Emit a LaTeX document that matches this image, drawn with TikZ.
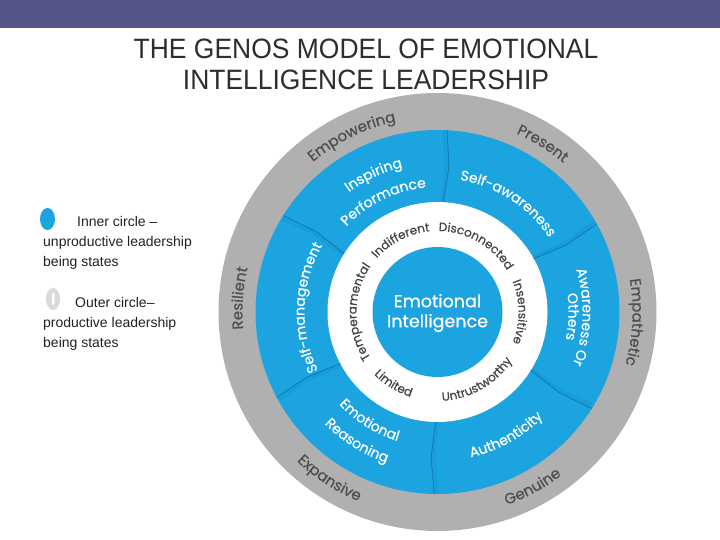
\documentclass[tikz,border=0pt]{standalone}
\usepackage{fontspec}
\setmainfont{Liberation Sans}
\newfontfamily\geo[FakeBold=0.45]{Poppins}
\newfontfamily\titlefont[FakeStretch=0.945]{Liberation Sans}
\usetikzlibrary{decorations.text}
\definecolor{topbar}{HTML}{55558A}
\definecolor{eiblue}{HTML}{1CA4E1}
\definecolor{ringgray}{HTML}{B0B0B0}
\definecolor{divline}{HTML}{0F7DB5}
\definecolor{graytext}{HTML}{4E4E4E}
\definecolor{whitetext}{HTML}{444444}
\definecolor{legtext}{HTML}{222222}
\newcommand\graytxt{\geo\fontsize{15}{15}\selectfont\color{graytext}}
\newcommand\bluetxt{\geo\fontsize{14}{14}\selectfont\color{white}}
\newcommand\whtxt{\geo\fontsize{12}{12}\selectfont\color{whitetext}}
\newcommand\cwtext[4]{\path[shift={(C)},decorate,decoration={text along path,text align=center,text={|#3|#4}}] ({#1+70}:#2) arc[start angle={#1+70},end angle={#1-70},radius=#2];}
\newcommand\ccwtext[4]{\path[shift={(C)},decorate,decoration={text along path,text align=center,text={|#3|#4}}] ({#1-70}:#2) arc[start angle={#1-70},end angle={#1+70},radius=#2];}
\tikzset{
  legend/.style={anchor=base west,inner sep=0pt,font=\fontsize{14}{14}\selectfont,text=legtext},
  titletext/.style={anchor=base,inner sep=0pt,font=\titlefont\fontsize{28}{28}\selectfont,text=black!82},
  divider/.style={divline,line width=1pt,line join=round}
}
\begin{document}
\begin{tikzpicture}[x=1pt,y=1pt]
\useasboundingbox (0,0) rectangle (720,540);
\fill[white] (0,0) rectangle (720,540);
\fill[topbar] (0,512) rectangle (720,540);
\node[titletext] (t1) at (366,481) {THE GENOS MODEL OF EMOTIONAL};
\node[titletext] (t2) at (366,450) {INTELLIGENCE LEADERSHIP};
% legend
\fill[eiblue] (47.5,321) ellipse[x radius=7.5,y radius=11];
\fill[black!15] (53,241) ellipse[x radius=7,y radius=11];
\fill[white,rounded corners=1pt] (52,235) rectangle (54.5,247);
\node[legend] (l1) at (77,313) {Inner circle –};
\node[legend] (l2) at (43,293) {unproductive leadership};
\node[legend] (l3) at (43,273) {being states};
\node[legend] (l4) at (75,232) {Outer circle–};
\node[legend] (l5) at (43,212) {productive leadership};
\node[legend] (l6) at (43,192) {being states};
% wheel
\coordinate (C) at (437.5,228);
\fill[ringgray] (C) circle[radius=219];
\fill[eiblue] (C) circle[radius=182];
\fill[white] (C) circle[radius=110];
\fill[eiblue] (C) circle[radius=65];
\foreach \a in {87,29,-32,-91,208,148}{
  \draw[shift={(C)},divline,line width=3pt,opacity=0.18] ({\a+1}:111) -- ({\a-0.5}:146) -- ({\a+1}:181);
  \draw[shift={(C)},divider] ({\a}:110) -- ({\a-1.5}:146) -- ({\a}:182);
}
\node[inner sep=0pt,align=center,text=white,font=\geo\fontsize{17.5}{20}\selectfont] (ei) at (437.5,227) {Emotional\\Intelligence};
% gray ring texts
\cwtext{176}{195}{\graytxt}{Resilient}
\cwtext{116}{195}{\graytxt}{Empowering}
\cwtext{58}{195}{\graytxt}{Present}
\cwtext{-3}{195}{\graytxt}{Empathetic}
\ccwtext{237}{205}{\graytxt}{Expansive}
\ccwtext{-61.5}{205}{\graytxt}{Genuine}
% blue ring texts
\cwtext{115}{149}{\bluetxt}{Inspiring}
\cwtext{116}{125}{\bluetxt}{Performance}
\cwtext{57}{134}{\bluetxt}{Self-awareness}
\cwtext{-2}{145}{\bluetxt}{Awareness Or}
\cwtext{-2}{131}{\bluetxt}{Others}
\ccwtext{-61}{149}{\bluetxt}{Authenticity}
\ccwtext{238}{135}{\bluetxt}{Emotional}
\ccwtext{238}{159}{\bluetxt}{Reasoning}
\cwtext{178}{133}{\bluetxt}{Self-management}
% white ring texts
\cwtext{117}{81}{\whtxt}{Indifferent}
\cwtext{60}{81}{\whtxt}{Disconnected}
\cwtext{0}{81}{\whtxt}{Insensitive}
\cwtext{180}{81}{\whtxt}{Temperamental}
\ccwtext{-60}{89}{\whtxt}{Untrustworthy}
\ccwtext{238.5}{89}{\whtxt}{Limited}
\end{tikzpicture}
\end{document}
